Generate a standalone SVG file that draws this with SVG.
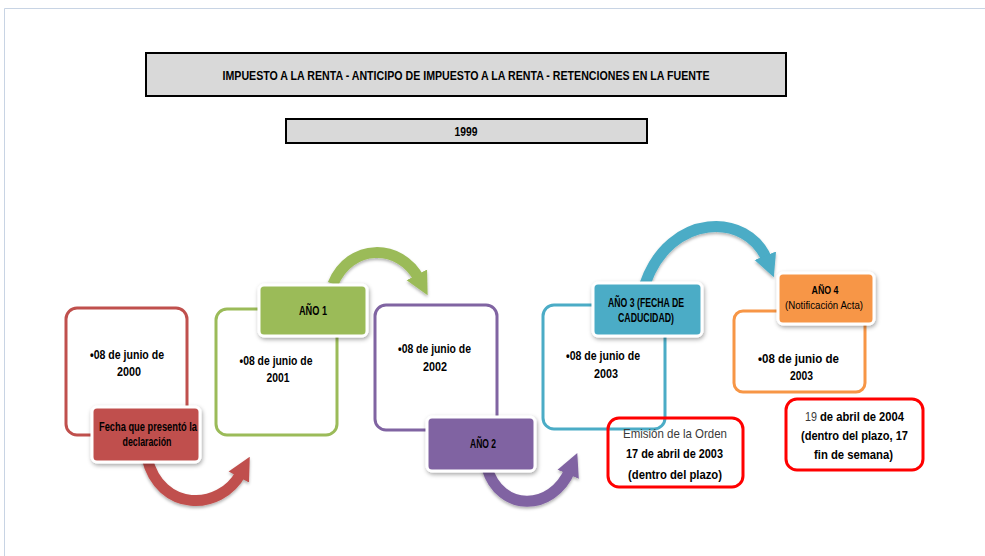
<svg xmlns="http://www.w3.org/2000/svg" width="985" height="556" viewBox="0 0 985 556">
<defs>
<style>
text{font-family:"Liberation Sans",Arial,sans-serif;font-size:12.5px;font-weight:bold;fill:#000;text-anchor:middle}
.n{font-weight:normal}
.g{fill:#3a3a3a;font-weight:normal}
.big{font-size:13px}
.st{text-anchor:start}
.ol{fill:#fff;stroke-width:3}
.lab{stroke:#fff;stroke-width:3;filter:url(#sh)}
.note{fill:none;stroke:#ff0000;stroke-width:3}
.arr{fill:none;stroke-width:11}
</style>
<filter id="sh" x="-20%" y="-20%" width="140%" height="150%">
<feDropShadow dx="1" dy="2" stdDeviation="2" flood-color="#000" flood-opacity="0.35"/>
</filter>
<filter id="ash" x="-20%" y="-20%" width="140%" height="150%">
<feDropShadow dx="0" dy="2" stdDeviation="1.5" flood-color="#000" flood-opacity="0.3"/>
</filter>
<marker id="mr" viewBox="0 0 10 10" refX="2" refY="5" markerWidth="2.1" markerHeight="2.3" orient="auto" markerUnits="strokeWidth"><path d="M0,0 L10,5 L0,10 z" fill="#c0504d"/></marker>
<marker id="mg" viewBox="0 0 10 10" refX="2" refY="5" markerWidth="2.1" markerHeight="2.3" orient="auto" markerUnits="strokeWidth"><path d="M0,0 L10,5 L0,10 z" fill="#9bbb59"/></marker>
<marker id="mp" viewBox="0 0 10 10" refX="2" refY="5" markerWidth="2.1" markerHeight="2.3" orient="auto" markerUnits="strokeWidth"><path d="M0,0 L10,5 L0,10 z" fill="#8064a2"/></marker>
<marker id="mt" viewBox="0 0 10 10" refX="2" refY="5" markerWidth="2.1" markerHeight="2.3" orient="auto" markerUnits="strokeWidth"><path d="M0,0 L10,5 L0,10 z" fill="#4bacc6"/></marker>
</defs>
<rect width="985" height="556" fill="#fff"/>
<path d="M4.5,556 V8.5 H985" fill="none" stroke="#c8d4e4" stroke-width="1"/>

<g id="title">
<rect x="146" y="53" width="640" height="43" fill="#d9d9d9" stroke="#000" stroke-width="2"/>
<text x="466" y="79.5" textLength="487" lengthAdjust="spacingAndGlyphs">IMPUESTO A LA RENTA - ANTICIPO DE IMPUESTO A LA RENTA - RETENCIONES EN LA FUENTE</text>
</g>
<g id="year">
<rect x="286" y="119" width="361" height="24" fill="#d9d9d9" stroke="#000" stroke-width="2"/>
<text x="466" y="136" textLength="23" lengthAdjust="spacingAndGlyphs">1999</text>
</g>

<g id="connectors" filter="url(#ash)">
<path class="arr" stroke="#c0504d" marker-end="url(#mr)" d="M147,458 C160,512 220,512 241,473"/>
<path class="arr" stroke="#9bbb59" marker-end="url(#mg)" d="M333,284 C350,243 400,243 419,279" stroke-width="10"/>
<path class="arr" stroke="#8064a2" marker-end="url(#mp)" d="M487,468 C500,512 552,512 570,470"/>
<path class="arr" stroke="#4bacc6" marker-end="url(#mt)" d="M645,284 C670,212 748,212 767,260"/>
</g>

<g id="node-2000">
<rect class="ol" x="66" y="308" width="121" height="127" rx="11" stroke="#c0504d"/>
<text x="127" y="359" textLength="74" lengthAdjust="spacingAndGlyphs">•08 de junio  de</text>
<text x="129" y="375.5" textLength="24" lengthAdjust="spacingAndGlyphs">2000</text>
</g>
<g id="label-fecha">
<rect class="lab" x="92" y="407" width="108" height="55" rx="5" fill="#c0504d"/>
<text x="148" y="431" textLength="98" lengthAdjust="spacingAndGlyphs">Fecha que presentó  la</text>
<text x="147" y="445.5" textLength="49" lengthAdjust="spacingAndGlyphs">declaración</text>
</g>

<g id="node-2001">
<rect class="ol" x="216" y="309" width="121" height="126" rx="11" stroke="#9bbb59"/>
<text x="276" y="365" textLength="73" lengthAdjust="spacingAndGlyphs">•08 de junio  de</text>
<text x="278" y="381.5" textLength="23" lengthAdjust="spacingAndGlyphs">2001</text>
</g>
<g id="label-ano1">
<rect class="lab" x="259" y="285" width="108" height="51" rx="5" fill="#9bbb59"/>
<text x="313" y="314.5" textLength="28" lengthAdjust="spacingAndGlyphs">AÑO 1</text>
</g>

<g id="node-2002">
<rect class="ol" x="375" y="305" width="122" height="125" rx="11" stroke="#8064a2"/>
<text x="434.5" y="353" textLength="73" lengthAdjust="spacingAndGlyphs">•08 de junio  de</text>
<text x="435" y="370.5" textLength="24" lengthAdjust="spacingAndGlyphs">2002</text>
</g>
<g id="label-ano2">
<rect class="lab" x="427" y="417" width="108" height="54" rx="5" fill="#8064a2"/>
<text x="483" y="447.5" textLength="26" lengthAdjust="spacingAndGlyphs">AÑO 2</text>
</g>

<g id="node-2003">
<rect class="ol" x="543" y="305" width="122" height="124" rx="11" stroke="#4bacc6"/>
<text x="603" y="360" textLength="74" lengthAdjust="spacingAndGlyphs">•08 de junio  de</text>
<text x="606" y="377.5" textLength="24" lengthAdjust="spacingAndGlyphs">2003</text>
</g>
<g id="label-ano3">
<rect class="lab" x="593" y="283" width="109" height="53" rx="5" fill="#4bacc6"/>
<text x="646" y="306.5" textLength="76" lengthAdjust="spacingAndGlyphs">AÑO 3 (FECHA DE</text>
<text x="646" y="321.5" textLength="56" lengthAdjust="spacingAndGlyphs">CADUCIDAD)</text>
</g>

<g id="node-2003b">
<rect class="ol" x="734" y="311" width="131" height="81" rx="9" stroke="#f79646"/>
<text x="798.5" y="362.5" textLength="81" lengthAdjust="spacingAndGlyphs" class="big">•08 de junio de</text>
<text x="801.5" y="380" textLength="23" lengthAdjust="spacingAndGlyphs" class="big">2003</text>
</g>
<g id="label-ano4">
<rect class="lab" x="778" y="273" width="96" height="51" rx="5" fill="#f79646"/>
<text x="825" y="294" textLength="27" lengthAdjust="spacingAndGlyphs" style="font-size:11.5px">AÑO 4</text>
<text x="824" y="308.5" textLength="78" lengthAdjust="spacingAndGlyphs" class="n" style="font-size:11.5px">(Notificación Acta)</text>
</g>

<g id="note-emision">
<rect class="note" x="608" y="418" width="135" height="69" rx="11"/>
<text x="675" y="437.5" textLength="104" lengthAdjust="spacingAndGlyphs" class="g big">Emisión de la Orden</text>
<text x="674.5" y="457.5" textLength="97" lengthAdjust="spacingAndGlyphs" class="big">17 de abril de 2003</text>
<text x="675" y="478.5" textLength="94" lengthAdjust="spacingAndGlyphs" class="big">(dentro del plazo)</text>
</g>

<g id="note-notificacion">
<rect class="note" x="786" y="399" width="137" height="71" rx="11"/>
<text x="805" y="420.5" textLength="12" lengthAdjust="spacingAndGlyphs" class="g big st">19</text>
<text x="820" y="420.5" textLength="84" lengthAdjust="spacingAndGlyphs" class="big st">de abril de 2004</text>
<text x="854.5" y="439.5" textLength="107" lengthAdjust="spacingAndGlyphs" class="big">(dentro del plazo, 17</text>
<text x="853.5" y="458.5" textLength="79" lengthAdjust="spacingAndGlyphs" class="big">fin de semana)</text>
</g>
</svg>
